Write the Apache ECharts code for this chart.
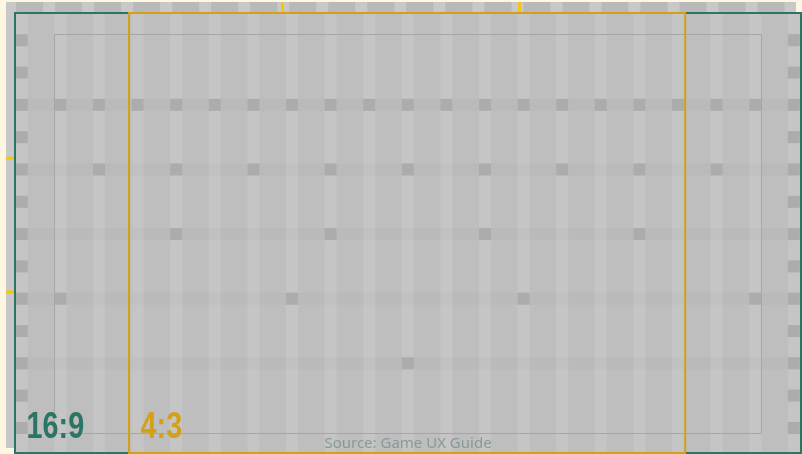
<!DOCTYPE html>
<html><head><meta charset="utf-8">
<script src="https://cdn.jsdelivr.net/npm/echarts@6/dist/echarts.min.js"></script>
<style>html,body{margin:0;padding:0;background:#fdf6e3;}#c{width:802px;height:454px;}</style>
</head><body><div id="c"></div>
<script>
// ---- data ----
// layout-grid columns / rows of the 16:9 frame
const columns = [0,1,2,3,4,5,6,7,8,9,10,11,12,13,14,15,16,17,18,19,20];
const rows = [0,1,2,3,4,5,6,7,8,9,10,11,12];
const edgeColumns = [0, 20];
const bandRows = [2, 4, 6, 8, 10];
const markerRows = [2, 4, 6, 8, 10];
const markerCols = [
  [1,2,3,4,5,6,7,8,9,10,11,12,13,14,15,16,17,18,19],
  [2,4,6,8,10,12,14,16,18],
  [4,8,12,16],
  [1,7,13,19],
  [10]
];
// frames, in % of the 16:9 frame
const frameNames = ['16:9', '4:3'];
const frameLeft = [0, 14.47];
const frameRight = [100, 85.3];
const frameTop = [0, 0];
const frameBottom = [100, 100];
const safeArea = [5.1, 94.85, 4.95, 95.3]; // left, right, top, bottom
// guide marks, in % of the screen
const guideMarks = [35, 65];
const sourceText = 'Source: Game UX Guide';

// ---- styles / layout ----
const C = {
  outerFill: '#b9b9b9', outerStripe: '#c8c8c8',
  frameFill: '#bebebe', frameStripe: '#c5c5c5',
  band: 'rgba(0,0,0,0.02)', marker: '#acacac', safe: '#a6a6a6',
  teal: '#2a7565', orange: '#d4a017', yellow: '#f6c700', source: '#87999a'
};
const frameColors = [C.teal, C.orange];
const OUTER = {left: 6, top: 2, width: 790, height: 446};
const FRAME = {left: 14, top: 12, width: 790, height: 446};
const STRIPE = 12;

const cells = [];
edgeColumns.forEach(c => rows.forEach(r => cells.push([c, r])));
markerRows.forEach((r, i) => markerCols[i].forEach(c => cells.push([c, r])));

function stripeRender(color) {
  return function (params, api) {
    const cs = params.coordSys;
    const x = api.coord([api.value(0), api.value(1)])[0];
    const rect = echarts.graphic.clipRectByRect({x: x - STRIPE / 2, y: cs.y, width: STRIPE, height: cs.height}, cs);
    if (!rect) return null;
    return {type: 'rect', shape: rect, style: {fill: color}};
  };
}
function bandRender(params, api) {
  const cs = params.coordSys;
  const y = api.coord([api.value(0), api.value(1)])[1];
  const rect = echarts.graphic.clipRectByRect({x: cs.x, y: y - STRIPE / 2, width: cs.width, height: STRIPE}, cs);
  if (!rect) return null;
  return {type: 'rect', shape: rect, style: {fill: C.band}};
}
function fillRender(color) {
  return function (params, api) {
    const cs = params.coordSys;
    return {type: 'rect', shape: {x: cs.x, y: cs.y, width: cs.width, height: cs.height}, style: {fill: color}};
  };
}

const option = {
  backgroundColor: '#fdf6e3',
  animation: false,
  grid: [
    Object.assign({}, OUTER), Object.assign({}, OUTER),
    Object.assign({}, FRAME), Object.assign({}, FRAME)
  ],
  xAxis: [
    {gridIndex: 0, type: 'value', min: 0, max: 100, show: false},
    {gridIndex: 1, type: 'value', min: -0.1025, max: 20.1382, show: false},
    {gridIndex: 2, type: 'value', min: 0, max: 100, show: false},
    {gridIndex: 3, type: 'value', min: -0.2016, max: 20.2119, show: false}
  ],
  yAxis: [
    {gridIndex: 0, type: 'value', min: 0, max: 100, inverse: true, show: false},
    {gridIndex: 1, type: 'value', min: 0, max: 100, inverse: true, show: false},
    {gridIndex: 2, type: 'value', min: 0, max: 100, inverse: true, show: false},
    {gridIndex: 3, type: 'value', min: -0.8742, max: 12.8068, inverse: true, show: false}
  ],
  graphic: [{
    type: 'text', x: 408, y: 444, z: 100,
    style: {text: sourceText, align: 'center', verticalAlign: 'middle',
      font: '15px "Noto Sans", sans-serif', fill: C.source}
  }],
  series: [
    {type: 'custom', xAxisIndex: 0, yAxisIndex: 0, z: 1, silent: true,
      data: [[0, 0]], renderItem: fillRender(C.outerFill)},
    {type: 'custom', xAxisIndex: 1, yAxisIndex: 1, z: 2, silent: true,
      data: columns.map(c => [c, 0]), renderItem: stripeRender(C.outerStripe)},
    {type: 'custom', xAxisIndex: 0, yAxisIndex: 0, z: 3, silent: true,
      data: guideMarks.map(v => [v, v]),
      renderItem: function (params, api) {
        const cs = params.coordSys;
        const px = api.coord([api.value(0), 0])[0];
        const py = api.coord([0, api.value(1)])[1];
        return {type: 'group', children: [
          {type: 'rect', shape: {x: px - 1.35, y: cs.y, width: 2.7, height: 14}, style: {fill: C.yellow}},
          {type: 'rect', shape: {x: cs.x, y: py - 1.35, width: 12, height: 2.7}, style: {fill: C.yellow}}
        ]};
      }},
    {type: 'custom', xAxisIndex: 2, yAxisIndex: 2, z: 4, silent: true,
      data: [[0, 0]], renderItem: fillRender(C.frameFill)},
    {type: 'custom', xAxisIndex: 3, yAxisIndex: 3, z: 5, silent: true,
      data: columns.map(c => [c, 0]), renderItem: stripeRender(C.frameStripe)},
    {type: 'custom', xAxisIndex: 3, yAxisIndex: 3, z: 6, silent: true,
      data: bandRows.map(r => [0, r]), renderItem: bandRender},
    {type: 'scatter', xAxisIndex: 3, yAxisIndex: 3, z: 7, silent: true,
      symbol: 'rect', symbolSize: 12, itemStyle: {color: C.marker, opacity: 1},
      data: cells},
    {type: 'custom', xAxisIndex: 2, yAxisIndex: 2, z: 8, silent: true,
      data: [safeArea],
      renderItem: function (params, api) {
        const a = api.coord([api.value(0), api.value(2)]);
        const b = api.coord([api.value(1), api.value(3)]);
        const x0 = Math.round(a[0]) + 0.5, y0 = Math.round(a[1]) + 0.5;
        const x1 = Math.round(b[0]) + 0.5, y1 = Math.round(b[1]) + 0.5;
        return {type: 'rect', shape: {x: x0, y: y0, width: x1 - x0, height: y1 - y0},
          style: {fill: null, stroke: C.safe, lineWidth: 1}};
      }},
    {type: 'custom', xAxisIndex: 2, yAxisIndex: 2, z: 9, silent: true,
      data: frameNames.map((n, i) => [frameLeft[i], frameRight[i], frameTop[i], frameBottom[i]]),
      renderItem: function (params, api) {
        const i = params.dataIndex;
        const a = api.coord([api.value(0), api.value(2)]);
        const b = api.coord([api.value(1), api.value(3)]);
        const col = frameColors[i];
        return {type: 'group', children: [
          {type: 'rect', shape: {x: a[0] + 1, y: a[1] + 1, width: b[0] - a[0] - 2, height: b[1] - a[1] - 2},
            style: {fill: null, stroke: col, lineWidth: 2}},
          {type: 'text', x: a[0] + 12.5, y: b[1] - 26, scaleX: 0.8,
            style: {text: frameNames[i], fill: col, align: 'left', verticalAlign: 'middle',
              font: 'bold 36px "Liberation Sans", Arial, sans-serif'}}
        ]};
      }}
  ]
};
const chart = echarts.init(document.getElementById('c'), null, {width: 802, height: 454});
chart.setOption(option);
</script></body></html>
